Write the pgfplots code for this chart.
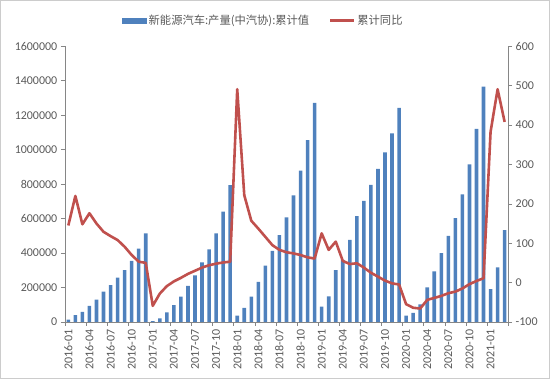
\documentclass[border=0pt]{standalone}
\usepackage{fontspec}
\setmainfont{Carlito}
\newfontfamily\cjk{Noto Sans CJK SC}
\usepackage{pgfplots}
\usepackage{pgfplotstable}
\pgfplotsset{compat=1.18}
\definecolor{barblue}{HTML}{4F81BD}
\definecolor{linered}{HTML}{C0504D}
\definecolor{txt}{HTML}{595959}
\definecolor{axl}{HTML}{868686}

\pgfplotstableread{
idx prod yoy
0 14000 145
1 39000 220
2 58000 148
3 93000 176
4 129000 150
5 176000 129
6 213000 118
7 257000 108
8 301000 91
9 354000 70
10 425000 53
11 514000 50
12 5000 -59
13 21000 -28
14 56000 -9
15 97000 3
16 147000 12
17 209000 22
18 271000 30
19 346000 38
20 421000 44
21 514000 48
22 640000 51
23 794000 53
24 37000 491
25 81000 222
26 147000 157
27 232000 137
28 327000 116
29 412000 95
30 504000 83
31 607000 77
32 734000 74
33 879000 70
34 1055000 64
35 1271000 61
36 89000 125
37 149000 83
38 301000 104
39 360000 55
40 477000 47
41 614000 49
42 703000 38
43 796000 25
44 889000 15
45 985000 5
46 1094000 -2
47 1242000 -5
48 37000 -55
49 52000 -64
50 102000 -66
51 201000 -44
52 294000 -39
53 400000 -34
54 499000 -27
55 603000 -23
56 740000 -15
57 914000 -4
58 1121000 4
59 1366000 11
60 191000 383
61 317000 491
62 533000 408
}\data

\pgfplotsset{
  common/.style={
    at={(64.5pt,57pt)}, anchor=south west,
    width=444pt, height=276pt, scale only axis,
    xmin=-0.5, xmax=62.5,
    axis line style={axl, line width=0.6pt},
    tick style={axl, line width=0.6pt},
    tick align=outside,
    major tick length=4pt,
    minor tick length=4pt,
    ticklabel style={font=\fontsize{12}{14}\selectfont, text=txt},
    scaled y ticks=false,
  }
}

\begin{document}
\begin{tikzpicture}
\path[draw=gray!40, line width=0.8pt, use as bounding box] (0,0) rectangle (550pt,379pt);
\begin{axis}[common,
  ymin=0, ymax=1600000,
  ytick={0,200000,400000,600000,800000,1000000,1200000,1400000,1600000},
  yticklabels={0,200000,400000,600000,800000,1000000,1200000,1400000,1600000},
  axis x line*=bottom, axis y line*=left,
  xtick={0,3,...,60},
  xticklabels={2016-01,2016-04,2016-07,2016-10,2017-01,2017-04,2017-07,2017-10,2018-01,2018-04,2018-07,2018-10,2019-01,2019-04,2019-07,2019-10,2020-01,2020-04,2020-07,2020-10,2021-01},
  x tick label style={rotate=90, anchor=east},
  major x tick style={draw=none},
  minor xtick={-0.5,2.5,...,62.5},
]
\addplot[ybar, bar width=3.6pt, fill=barblue, draw=none] table[x=idx, y=prod]{\data};
\end{axis}
\begin{axis}[common,
  ymin=-100, ymax=600,
  ytick={-100,0,100,200,300,400,500,600},
  yticklabels={-100,0,100,200,300,400,500,600},
  axis y line*=right, axis x line=none,
  legend style={draw=none, fill=none, at={(0.448,1.094)}, anchor=center,
    font=\cjk\fontsize{11.3}{13}\selectfont, text=txt,
    /tikz/every even column/.append style={column sep=18pt}},
  legend columns=2,
]
\addlegendimage{legend image code/.code={\fill[barblue] (0pt,-2.6pt) rectangle (24pt,2.6pt);}}
\addlegendentry{新能源汽车:产量(中汽协):累计值}
\addplot[linered, line width=2.6pt, line join=round,
  legend image code/.code={\draw[linered, line width=2.2pt] (0pt,0pt) -- (24pt,0pt);}]
  table[x=idx, y=yoy]{\data};
\addlegendentry{累计同比}
\end{axis}
\end{tikzpicture}
\end{document}
